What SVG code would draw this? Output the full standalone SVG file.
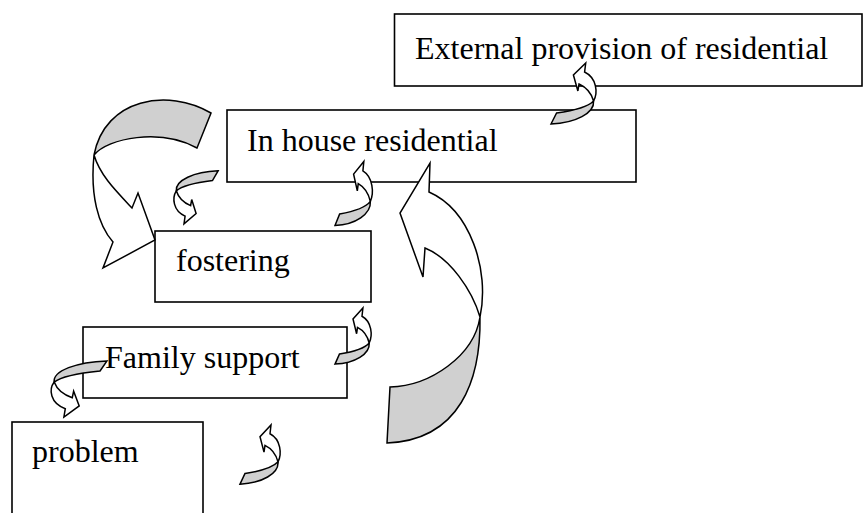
<svg xmlns="http://www.w3.org/2000/svg" width="864" height="513" viewBox="0 0 864 513">
<style>
.box{fill:#fff;stroke:#000;stroke-width:1.6}
.lbl{font-family:"Liberation Serif","Times New Roman",serif;font-size:32px;fill:#000}
.back{fill:#d0d0d0;stroke:#000;stroke-width:1.5;stroke-linejoin:miter;vector-effect:non-scaling-stroke}
.front{fill:#fff;stroke:#000;stroke-width:1.5;stroke-linejoin:miter;vector-effect:non-scaling-stroke}
</style>
<defs>
<g id="ca">
<path class="back" d="M0,61 L5,50 C18,48 32,45 38,38 C39,50 22,60 0,61 Z"/>
<path class="front" d="M38,38 C42,30 41,15 30,9 L31,0 L20,12 L24,28 L25,21 C31,24 36,30 38,38 Z"/>
</g>
</defs>
<g id="external">
<rect class="box" x="394.5" y="14" width="467.5" height="72"/>
<text class="lbl" x="415" y="59">External provision of residential</text>
</g>
<g id="inhouse">
<rect class="box" x="227" y="110" width="409" height="72"/>
<text class="lbl" x="247" y="151">In house residential</text>
</g>
<g id="fostering">
<rect class="box" x="155" y="231" width="216" height="71"/>
<text class="lbl" x="176" y="271">fostering</text>
</g>
<g id="family">
<rect class="box" x="83" y="327" width="264" height="71"/>
<text class="lbl" x="105" y="368">Family support</text>
</g>
<g id="problem">
<rect class="box" x="12" y="422" width="191" height="100"/>
<text class="lbl" x="32" y="462">problem</text>
</g>
<g id="connectors">
<g id="bigLeft">
<path class="back" d="M211,113 C168,88 105,98 94,155 C108,138 160,128 197,148 Z"/>
<path class="front" d="M94,155 C90,195 98,225 113,242 L103,268 L155,240 L138,193 L132,208 C115,190 100,175 94,155 Z"/>
</g>
<g id="bigRight">
<path class="back" d="M387,443 L390,387 C430,386 474,356 480,317 C481,380 460,440 387,443 Z"/>
<path class="front" d="M480,317 C490,270 470,210 429,192 L430,163 L400,213 L423,277 L425,248 C450,258 472,290 480,317 Z"/>
</g>
<use href="#ca" transform="translate(335,161.5) scale(0.93,1.05)"/>
<use href="#ca" transform="translate(551,63) scale(1.12,1)"/>
<use href="#ca" transform="translate(335,308) scale(0.9,0.92)"/>
<use href="#ca" transform="translate(240,425) scale(1,0.97)"/>
<use href="#ca" transform="translate(218.1,223.9) scale(-1.1,-0.87)"/>
<use href="#ca" transform="translate(107,417) scale(-1.39,-0.92)"/>
</g>
</svg>
